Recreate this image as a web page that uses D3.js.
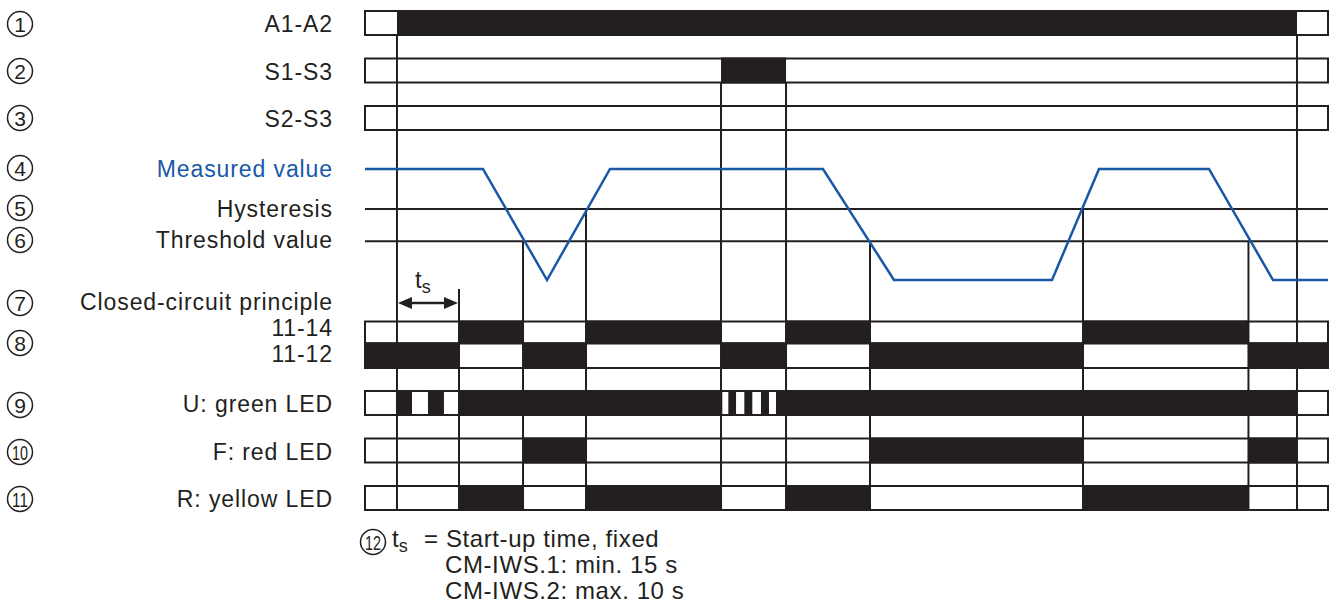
<!DOCTYPE html>
<html>
<head>
<meta charset="utf-8">
<script src="https://cdn.jsdelivr.net/npm/d3@7"></script>
<style>
body { margin: 0; background: #fff; }
svg text { font-family: "Liberation Sans", Arial, sans-serif; fill: #231f20; }
</style>
</head>
<body>
<svg id="chart" width="1336" height="610"></svg>
<script>
// time axis in arbitrary units, 0 = left edge of the diagram, 100 = right edge
const marks = [3.32, 9.76, 16.41, 22.95, 36.97, 43.72, 52.44, 74.56, 91.74, 96.78];
// where each vertical mark line starts
const markFrom = ["A1-A2", "ts", "threshold", "hysteresis", "S1-S3", "S1-S3", "threshold", "hysteresis", "threshold", "A1-A2"];

// switching states: intervals where the signal is ON (black)
const a1a2On = [[3.32, 96.78]];
const s1s3On = [[36.97, 43.72]];
const s2s3On = [];
const c1114On = [[9.76, 16.41], [22.95, 36.97], [43.72, 52.44], [74.56, 91.74]];
const c1112On = [[0, 9.76], [16.41, 22.95], [36.97, 43.72], [52.44, 74.56], [91.74, 100]];
const greenOn = [[3.32, 4.88], [6.54, 8.20], [9.76, 37.1], [37.73, 38.53], [39.39, 40.22], [41.12, 41.95], [42.68, 96.78]];
const redOn = [[16.41, 22.95], [52.44, 74.56], [91.74, 96.78]];
const yellowOn = [[9.76, 16.41], [22.95, 36.97], [43.72, 52.44], [74.56, 91.74]];

// measured value trace (0 = low, 1 = high)
const mvTime = [0, 12.25, 18.9, 25.44, 47.56, 54.93, 71.34, 76.22, 87.64, 94.29, 100];
const mvLevel = [1, 1, 0, 1, 1, 0, 0, 1, 1, 0, 0];
const hysteresisLevel = 0.64;
const thresholdLevel = 0.35;

const rowLabels = ["A1-A2", "S1-S3", "S2-S3", "Measured value", "Hysteresis", "Threshold value",
  "Closed-circuit principle", "11-14", "11-12", "U: green LED", "F: red LED", "R: yellow LED"];
const noteLines = ["= Start-up time, fixed", "CM-IWS.1: min. 15 s", "CM-IWS.2: max. 10 s"];

const BLACK = "#231f20", BLUE = "#1858a6";

var svg = d3.select("#chart"),
    x = d3.scaleLinear().domain([0, 100]).range([365, 1328]),
    lv = d3.scaleLinear().domain([0, 1]).range([280, 169]),
    rowTop = d3.scaleLinear().domain([0, 1]).range([11, 58.5]),
    rowH = 24,
    bottomY = rowTop(10) + rowH;

// digital rows
var rows = [
  { on: a1a2On, y: rowTop(0), h: rowH },
  { on: s1s3On, y: rowTop(1), h: rowH },
  { on: s2s3On, y: rowTop(2), h: rowH },
  { on: c1114On, y: rowTop(7) - 22, h: 22 },
  { on: c1112On, y: rowTop(7), h: 24.5 },
  { on: greenOn, y: rowTop(8), h: rowH },
  { on: redOn, y: rowTop(9), h: rowH },
  { on: yellowOn, y: rowTop(10), h: rowH }
];

var gRows = svg.append("g");
rows.forEach(function (r) {
  gRows.append("rect")
    .attr("x", x(0)).attr("y", r.y)
    .attr("width", x(100) - x(0)).attr("height", r.h)
    .attr("fill", "#fff").attr("stroke", BLACK).attr("stroke-width", 2);
  gRows.selectAll(null).data(r.on).enter().append("rect")
    .attr("x", function (d) { return x(d[0]) - (d[0] === 0 ? 1 : 0); })
    .attr("y", r.y - 1)
    .attr("width", function (d) { return x(d[1]) - x(d[0]) + (d[0] === 0 ? 1 : 0) + (d[1] === 100 ? 1 : 0); })
    .attr("height", r.h + 2)
    .attr("fill", BLACK);
});

// level lines
[hysteresisLevel, thresholdLevel].forEach(function (l) {
  svg.append("line")
    .attr("x1", x(0)).attr("x2", x(100))
    .attr("y1", lv(l)).attr("y2", lv(l))
    .attr("stroke", BLACK).attr("stroke-width", 2);
});

// vertical time marks
var startY = {
  "A1-A2": rowTop(0) + rowH,
  "S1-S3": rowTop(1) + rowH,
  "threshold": lv(thresholdLevel),
  "hysteresis": lv(hysteresisLevel),
  "ts": 289
};
svg.append("g").selectAll("line").data(marks).enter().append("line")
  .attr("x1", function (d) { return x(d); }).attr("x2", function (d) { return x(d); })
  .attr("y1", function (d, i) { return startY[markFrom[i]]; })
  .attr("y2", bottomY)
  .attr("stroke", BLACK).attr("stroke-width", 2);

// measured value
var line = d3.line()
  .x(function (d) { return x(d[0]); })
  .y(function (d) { return lv(d[1]); });
svg.append("path")
  .datum(d3.zip(mvTime, mvLevel))
  .attr("d", line)
  .attr("fill", "none").attr("stroke", BLUE).attr("stroke-width", 2.5)
  .attr("stroke-linejoin", "miter");

// ts arrow
var ay = 303, ax1 = x(marks[0]) + 1, ax2 = x(marks[1]) - 1, hl = 14, hw = 6;
svg.append("line").attr("x1", ax1 + 4).attr("x2", ax2 - 4).attr("y1", ay).attr("y2", ay)
  .attr("stroke", BLACK).attr("stroke-width", 2.5);
svg.append("path").attr("fill", BLACK)
  .attr("d", "M" + ax1 + "," + ay + "L" + (ax1 + hl) + "," + (ay - hw) + "L" + (ax1 + hl) + "," + (ay + hw) + "Z" +
    "M" + ax2 + "," + ay + "L" + (ax2 - hl) + "," + (ay - hw) + "L" + (ax2 - hl) + "," + (ay + hw) + "Z");
var ts = svg.append("text").attr("x", 415).attr("y", 288).style("font-size", "24px");
ts.append("tspan").text("t");
ts.append("tspan").attr("dy", 5).style("font-size", "18px").text("s");

// labels
var labelY = [rowTop(0) + 21, rowTop(1) + 21, rowTop(2) + 21, lv(1) + 8, lv(hysteresisLevel) + 8, lv(thresholdLevel) + 7,
  310, 336, 362, rowTop(8) + 21, rowTop(9) + 21, rowTop(10) + 21];
svg.append("g").selectAll("text").data(rowLabels).enter().append("text")
  .attr("x", 333).attr("y", function (d, i) { return labelY[i]; })
  .attr("text-anchor", "end")
  .style("font-size", "23px").style("letter-spacing", "0.9px")
  .style("fill", function (d, i) { return i === 3 ? BLUE : BLACK; })
  .text(function (d) { return d; });

// circled numbers
var numY = [24, 71, 118, 168, 208, 240, 303, 343, 405, 452, 499];
function circled(cx, cy, n) {
  var g = svg.append("g").attr("transform", "translate(" + cx + "," + cy + ")");
  g.append("circle").attr("r", 12.5).attr("fill", "none").attr("stroke", BLACK).attr("stroke-width", 1.5);
  var t = g.append("text").attr("text-anchor", "middle").attr("y", 7.5)
    .style("font-size", "21px").text(n);
  if (n > 9) t.attr("textLength", 16).attr("lengthAdjust", "spacingAndGlyphs").attr("x", 0);
}
numY.forEach(function (cy, i) { circled(20, cy, i + 1); });
circled(373, 542, 12);

// note
var note = svg.append("text").attr("x", 392).attr("y", 547).style("font-size", "24px");
note.append("tspan").text("t");
note.append("tspan").attr("dy", 5).style("font-size", "18px").text("s");
svg.append("g").selectAll("text.note").data(noteLines).enter().append("text")
  .attr("class", "note")
  .attr("x", function (d, i) { return i === 0 ? 424 : 445; })
  .attr("y", function (d, i) { return 547 + i * 26; })
  .style("font-size", "24px").style("letter-spacing", "0.6px")
  .text(function (d) { return d; });
</script>
</body>
</html>
